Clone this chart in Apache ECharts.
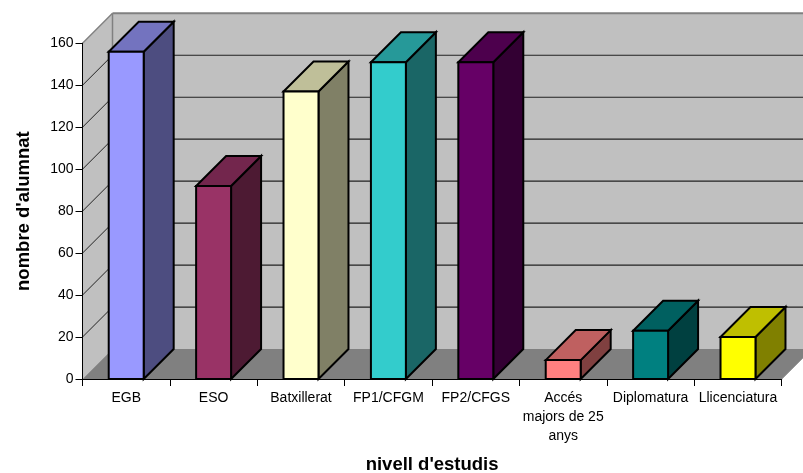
<!DOCTYPE html>
<html><head><meta charset="utf-8">
<script src="https://cdn.jsdelivr.net/npm/echarts@6/dist/echarts.min.js"></script>
<style>html,body{margin:0;padding:0;background:#fff}#c{width:803px;height:473px}</style>
</head><body><div id="c"></div>
<script>
const categories = ['EGB','ESO','Batxillerat','FP1/CFGM','FP2/CFGS','Accés\nmajors de 25\nanys','Diplomatura','Llicenciatura'];
const values = [156,92,137,151,151,9,23,20];
const yTicks = [0,20,40,60,80,100,120,140,160];
const faceColors = ['#9999FF','#993366','#FFFFCC','#33CCCC','#660066','#FF8080','#008080','#FFFF00'];

const DEPTH = 30;
const FONT = '"Liberation Sans", Arial, sans-serif';
function shade(hex, f){
  const n = parseInt(hex.slice(1),16);
  const c = [(n>>16)&255,(n>>8)&255,n&255].map(v=>Math.round(v*f));
  return 'rgb('+c.join(',')+')';
}
function poly(points, fill, stroke, lw){
  return {type:'polygon', silent:true, shape:{points}, style:{fill, stroke:stroke||null, lineWidth:lw||0, lineJoin:'miter'}};
}
function line(x1,y1,x2,y2,stroke,lw){
  return {type:'line', silent:true, shape:{x1,y1,x2,y2}, style:{stroke, lineWidth:lw}};
}
function renderWalls(params, api){
  const cs = params.coordSys, L=cs.x, R=cs.x+cs.width, T=cs.y, B=cs.y+cs.height, D=DEPTH;
  const kids = [
    poly([[L+D,B-D],[L+D,T-D],[R+D,T-D],[R+D,B-D]], '#C0C0C0'),
    poly([[L,B],[L+D,B-D],[L+D,T-D],[L,T]], '#C0C0C0'),
    poly([[L,B],[L+D,B-D],[R+D,B-D],[R,B]], '#808080')
  ];
  yTicks.forEach(t=>{
    if(t===0 || t===160) return;
    const y = api.coord([0,t])[1];
    kids.push(line(L,y,L+D,y-D,'#222',1));
    kids.push(line(L+D,y-D,R+D,y-D,'#222',1.2));
  });
  kids.push(line(L,T,L+D,T-D,'#808080',1.5));
  kids.push(line(L+D,T-D,R+D,T-D,'#808080',2));
  kids.push(line(L+D,T-D,L+D,B-D,'#808080',1.5));
  kids.push(line(R,B,R+D,B-D,'#808080',1));
  return {type:'group', children:kids};
}
function renderBar(params, api){
  const i = api.value(0), v = api.value(1);
  const c = api.coord([i,v]), b = api.coord([i,0]);
  const w = api.size([1,0])[0]*0.4, D=DEPTH;
  const l=c[0]-w/2, r=c[0]+w/2, t=c[1], bt=b[1];
  const col = faceColors[i];
  const K='#000', LW=2;
  return {type:'group', children:[
    poly([[r,bt],[r+D,bt-D],[r+D,t-D],[r,t]], shade(col,0.5), K, LW),
    poly([[l,t],[l+D,t-D],[r+D,t-D],[r,t]], shade(col,0.75), K, LW),
    poly([[l,t],[r,t],[r,bt],[l,bt]], col, K, LW)
  ]};
}
const chart = echarts.init(document.getElementById('c'), null, {renderer:'canvas'});
chart.setOption({
  animation:false,
  backgroundColor:'#fff',
  grid:{left:82.5, top:43.3, width:699.2, height:335.7, containLabel:false, outerBoundsMode:'none'},
  xAxis:{
    type:'category', data:categories, z:5,
    name:"nivell d'estudis", nameLocation:'middle', nameGap:76,
    nameTextStyle:{fontFamily:FONT,fontWeight:'bold',fontSize:18.5,color:'#000'},
    axisLine:{lineStyle:{color:'#000',width:1}},
    axisTick:{show:true,length:7,lineStyle:{color:'#000'}},
    axisLabel:{interval:0,color:'#000',fontFamily:FONT,fontSize:14,margin:10,lineHeight:19,verticalAlign:'top'},
    splitLine:{show:false}
  },
  yAxis:{
    type:'value', min:0, max:160, interval:20, z:5,
    name:"nombre d'alumnat", nameLocation:'middle', nameGap:49, nameRotate:90,
    nameTextStyle:{fontFamily:FONT,fontWeight:'bold',fontSize:18.5,color:'#000'},
    axisLine:{show:true,lineStyle:{color:'#000',width:1}},
    axisTick:{show:true,length:7,lineStyle:{color:'#000'}},
    axisLabel:{color:'#000',fontFamily:FONT,fontSize:14,margin:9},
    splitLine:{show:false}
  },
  series:[
    {type:'custom', data:[[0,0]], renderItem:renderWalls, z:1, silent:true, clip:false},
    {type:'custom', data:values.map((v,i)=>[i,v]), encode:{x:0,y:1}, renderItem:renderBar, z:2, silent:true, clip:false}
  ]
});
</script></body></html>
